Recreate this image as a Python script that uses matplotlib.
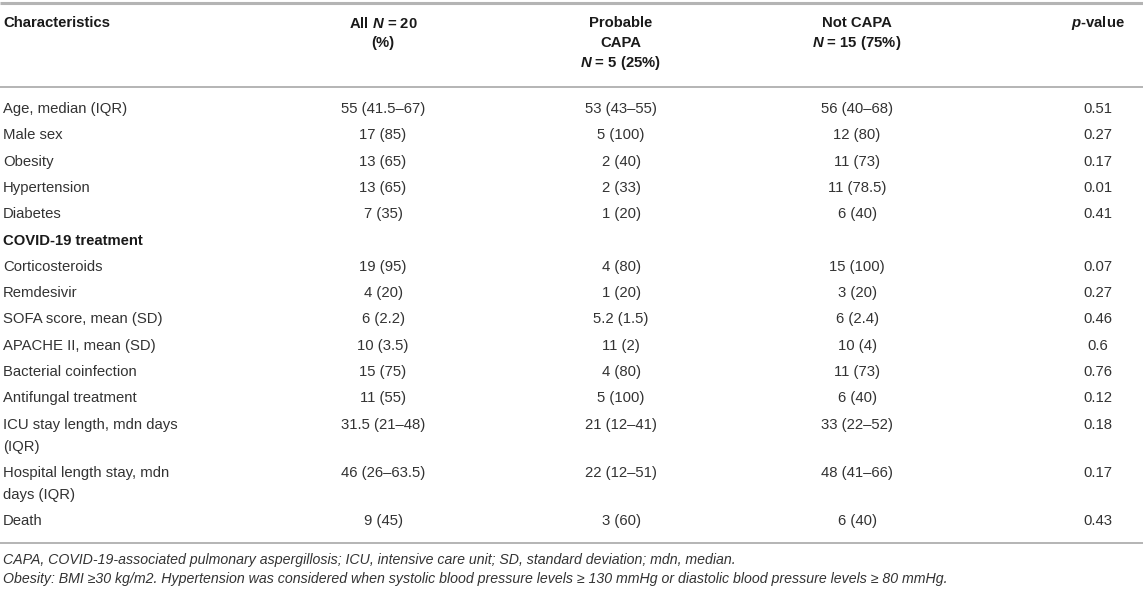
import matplotlib
matplotlib.use("Agg")
import matplotlib.pyplot as plt

plt.rcParams['font.family'] = ['Liberation Sans', 'DejaVu Sans']
plt.rcParams['mathtext.fontset'] = 'custom'
plt.rcParams['mathtext.it'] = 'Liberation Sans:italic:bold'
plt.rcParams['mathtext.rm'] = 'Liberation Sans:bold'
plt.rcParams['mathtext.bf'] = 'Liberation Sans:bold'

# ---- data ----
headers = [
    ["Characteristics"],
    ["All $N$ = 20", "(%)"],
    ["Probable", "CAPA", "$N$ = 5 (25%)"],
    ["Not CAPA", "$N$ = 15 (75%)"],
    ["$p$-value"],
]
characteristics = [
    ["Age, median (IQR)"], ["Male sex"], ["Obesity"], ["Hypertension"], ["Diabetes"],
    ["COVID-19 treatment"], ["Corticosteroids"], ["Remdesivir"],
    ["SOFA score, mean (SD)"], ["APACHE II, mean (SD)"], ["Bacterial coinfection"],
    ["Antifungal treatment"], ["ICU stay length, mdn days", "(IQR)"],
    ["Hospital length stay, mdn", "days (IQR)"], ["Death"],
]
bold_rows = ["COVID-19 treatment"]
all_patients = ["55 (41.5–67)", "17 (85)", "13 (65)", "13 (65)", "7 (35)", "",
                "19 (95)", "4 (20)", "6 (2.2)", "10 (3.5)", "15 (75)", "11 (55)",
                "31.5 (21–48)", "46 (26–63.5)", "9 (45)"]
probable_capa = ["53 (43–55)", "5 (100)", "2 (40)", "2 (33)", "1 (20)", "",
                 "4 (80)", "1 (20)", "5.2 (1.5)", "11 (2)", "4 (80)", "5 (100)",
                 "21 (12–41)", "22 (12–51)", "3 (60)"]
not_capa = ["56 (40–68)", "12 (80)", "11 (73)", "11 (78.5)", "6 (40)", "",
            "15 (100)", "3 (20)", "6 (2.4)", "10 (4)", "11 (73)", "6 (40)",
            "33 (22–52)", "48 (41–66)", "6 (40)"]
p_values = ["0.51", "0.27", "0.17", "0.01", "0.41", "",
            "0.07", "0.27", "0.46", "0.6", "0.76", "0.12",
            "0.18", "0.17", "0.43"]
footnotes = [
    "CAPA, COVID-19-associated pulmonary aspergillosis; ICU, intensive care unit; SD, standard deviation; mdn, median.",
    "Obesity: BMI ≥30 kg/m2. Hypertension was considered when systolic blood pressure levels ≥ 130 mmHg or diastolic blood pressure levels ≥ 80 mmHg.",
]

# ---- layout ----
W, H = 1143, 590
fig = plt.figure(figsize=(W / 100, H / 100), dpi=100)
ax = fig.add_axes([0, 0, 1, 1])
ax.set_xlim(0, W)
ax.set_ylim(H, 0)
ax.axis('off')

col_x = [3, 383, 621, 857, 1098]
col_ha = ['left', 'center', 'center', 'center', 'center']
FS = 10.7
FS_NOTE = 10.2
txt_col = '#333333'
rule_col = '#b4b4b4'

# rules
ax.plot([0, W], [3, 3], color=rule_col, lw=2.2, solid_capstyle='butt')
ax.plot([0, W], [87, 87], color=rule_col, lw=1.4, solid_capstyle='butt')

# header
hdr_y0, hdr_dy = 23, 20
for ci, lines in enumerate(headers):
    for li, s in enumerate(lines):
        ax.text(col_x[ci], hdr_y0 + li * hdr_dy, s, ha=col_ha[ci], va='center',
                fontsize=FS, fontweight='bold', color='#1a1a1a')

# body
y = 109
row_pitch, wrap_dy = 26.3, 22
columns = [all_patients, probable_capa, not_capa, p_values]
for ri, lines in enumerate(characteristics):
    bold = lines[0] in bold_rows
    for li, s in enumerate(lines):
        ax.text(col_x[0], y + li * wrap_dy, s, ha='left', va='center', fontsize=FS,
                fontweight='bold' if bold else 'normal',
                color='#1a1a1a' if bold else txt_col)
    for ci, col in enumerate(columns, start=1):
        ax.text(col_x[ci], y, col[ri], ha='center', va='center', fontsize=FS, color=txt_col)
    y += row_pitch + (len(lines) - 1) * wrap_dy

bottom_rule = y - row_pitch + 21.5
ax.plot([0, W], [bottom_rule, bottom_rule], color=rule_col, lw=1.4, solid_capstyle='butt')

fy = bottom_rule + 17
for s in footnotes:
    ax.text(3, fy, s, ha='left', va='center', fontsize=FS_NOTE, style='italic', color=txt_col)
    fy += 19.5

fig.savefig('out.png', dpi=100)
